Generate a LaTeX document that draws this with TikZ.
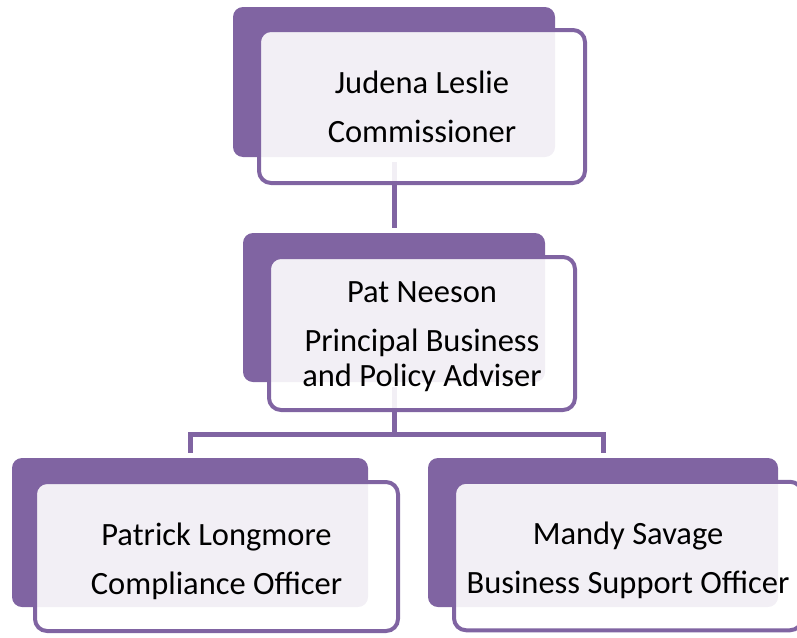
\documentclass[tikz,border=0pt]{standalone}
\usepackage{fontspec}
\setmainfont{Carlito}
\usepackage{tikz}
\definecolor{orgpurple}{HTML}{8064A2}

\begin{document}
\begin{tikzpicture}[x=1pt,y=-1pt]
\tikzstyle{back}=[rectangle,fill=orgpurple,rounded corners=10pt,inner sep=0pt,minimum height=149pt]
\tikzstyle{front}=[rectangle,draw=orgpurple,line width=4pt,fill=white,fill opacity=0.9,text opacity=1,rounded corners=12pt,align=center,inner sep=0pt,minimum height=153pt,font=\fontsize{32.5}{35}\selectfont]
\tikzstyle{conn}=[draw=orgpurple,line width=5pt,shorten <=5pt,shorten >=5pt]
\useasboundingbox (0,0) rectangle (797,637);
% back plates
\node[back,minimum width=322pt,minimum height=150pt] (jlback) at (394,82) {};
\node[back,minimum width=302pt] (pnback) at (394,307.5) {};
\node[back,minimum width=356pt] (plback) at (190,532.5) {};
\node[back,minimum width=350pt] (msback) at (603,532.5) {};
% connectors
\coordinate (fork) at (394,434);
\draw[conn] (jlback.south) -- (pnback.north);
\draw[conn,shorten >=0pt] (pnback.south) -- (fork);
\draw[conn] (plback.north) |- (fork) -| (msback.north);
% front boxes
\node[front,minimum width=326pt] (jl) at (422,106.5) {Judena Leslie\\[14pt]Commissioner};
\node[front,minimum width=306pt] (pn) at (422,333.5) {\rule{0pt}{27pt}Pat Neeson\\[14pt]Principal Business\\and Policy Adviser};
\node[front,minimum width=363pt,minimum height=149pt] (pl) at (216.5,556.5) {\rule{0pt}{32pt}Patrick Longmore\\[14pt]Compliance Officer};
\node[front,minimum width=348pt,minimum height=148.5pt] (ms) at (628,556) {\rule{0pt}{32pt}Mandy Savage\\[14pt]Business Support Officer};
\end{tikzpicture}
\end{document}
